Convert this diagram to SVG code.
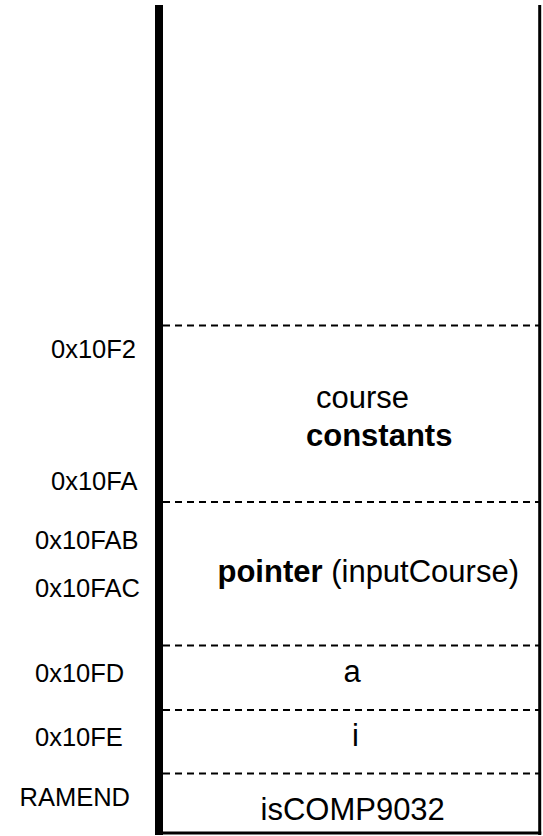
<svg xmlns="http://www.w3.org/2000/svg" width="543" height="836" viewBox="0 0 543 836">
<style>
text{font-family:"Liberation Sans",Arial,sans-serif;fill:#000}
.lbl{font-size:25.5px}
.main{font-size:31px}
.b{font-weight:bold}
.dash{stroke:#000;stroke-width:2;stroke-dasharray:7,5;fill:none}
</style>
<rect width="543" height="836" fill="#fff"/>
<g id="frame">
<line x1="159" y1="5" x2="159" y2="835" stroke="#000" stroke-width="8"/>
<line x1="539.7" y1="5" x2="539.7" y2="835" stroke="#000" stroke-width="3"/>
<line x1="155" y1="833" x2="541.2" y2="833" stroke="#000" stroke-width="3"/>
</g>
<g id="connectors">
<line class="dash" x1="163" y1="325.5" x2="539" y2="325.5"/>
<line class="dash" x1="163" y1="502" x2="539" y2="502"/>
<line class="dash" x1="163" y1="645.5" x2="539" y2="645.5"/>
<line class="dash" x1="163" y1="710" x2="539" y2="710"/>
<line class="dash" x1="163" y1="773.5" x2="539" y2="773.5"/>
</g>
<g id="labels">
<text class="lbl" x="51" y="358">0x10F2</text>
<text class="lbl" x="51" y="490">0x10FA</text>
<text class="lbl" x="35" y="549">0x10FAB</text>
<text class="lbl" x="35" y="597">0x10FAC</text>
<text class="lbl" x="35" y="682">0x10FD</text>
<text class="lbl" x="35" y="746">0x10FE</text>
<text class="lbl" x="19.5" y="806">RAMEND</text>
</g>
<g id="course-constants">
<text class="main" x="316" y="408">course</text>
<text class="main b" x="306" y="446">constants</text>
</g>
<g id="pointer">
<text class="main" x="217.5" y="582"><tspan class="b">pointer</tspan> (inputCourse)</text>
</g>
<g id="a">
<text class="main" x="352" y="682" text-anchor="middle">a</text>
</g>
<g id="i">
<text class="main" x="355.5" y="746" text-anchor="middle">i</text>
</g>
<g id="isCOMP9032">
<text class="main" x="260.5" y="820">isCOMP9032</text>
</g>
</svg>
